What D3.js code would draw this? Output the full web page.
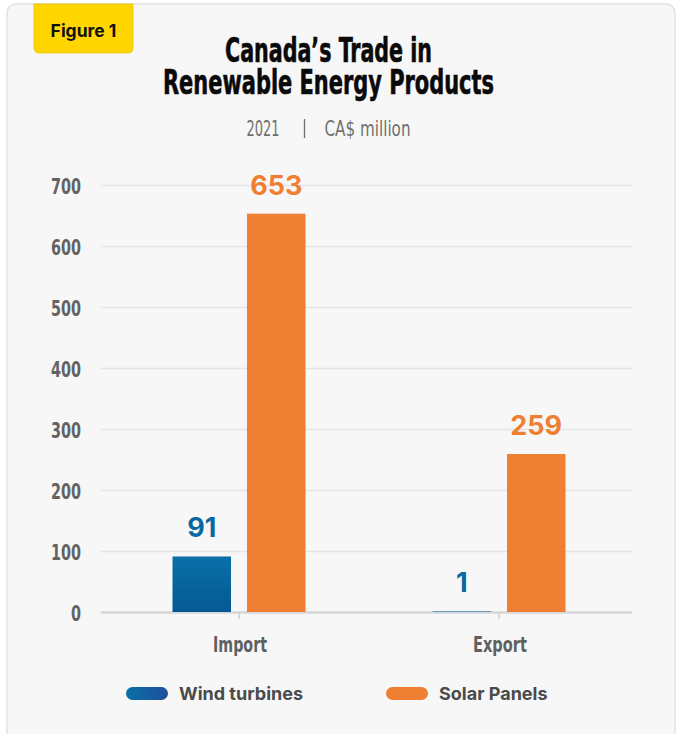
<!DOCTYPE html>
<html>
<head>
<meta charset="utf-8">
<script src="https://cdn.jsdelivr.net/npm/d3@7"></script>
<style>
  html, body { margin: 0; padding: 0; background: #ffffff; }
  svg { display: block; }
</style>
</head>
<body>
<svg id="chart" width="677" height="734"></svg>
<script>
// ---- data ----
const categories = ["Import", "Export"];
const seriesNames = ["Wind turbines", "Solar Panels"];
const windValues = [91, 1];
const solarValues = [653, 259];
const yTicks = [0, 100, 200, 300, 400, 500, 600, 700];
const titleLines = ["Canada\u2019s Trade in", "Renewable Energy Products"];
const subtitleParts = ["2021", "CA$ million"];
const figureLabel = "Figure 1";

const seriesColors = { "Wind turbines": "url(#blueGrad)", "Solar Panels": "#ee7f33" };
const labelColors = { "Wind turbines": "#0a68a0", "Solar Panels": "#ee7f33" };

const svg = d3.select("#chart");
const defs = svg.append("defs");
const g1 = defs.append("linearGradient").attr("id", "blueGrad").attr("x1", 0).attr("y1", 0).attr("x2", 0).attr("y2", 1);
g1.append("stop").attr("offset", "0%").attr("stop-color", "#0a6fa7");
g1.append("stop").attr("offset", "100%").attr("stop-color", "#045994");
const g2 = defs.append("linearGradient").attr("id", "blueGradH").attr("x1", 0).attr("y1", 0).attr("x2", 1).attr("y2", 0);
g2.append("stop").attr("offset", "0%").attr("stop-color", "#0a6fa7");
g2.append("stop").attr("offset", "100%").attr("stop-color", "#1d4f9b");

const condensed = "'Liberation Sans Narrow', 'DejaVu Sans Condensed', 'Roboto Condensed', sans-serif";
const sans = "Inter, 'Noto Sans', Roboto, sans-serif";

// card
svg.append("rect").attr("x", 7).attr("y", 4).attr("width", 668).attr("height", 736)
  .attr("rx", 9).attr("fill", "#f7f7f7").attr("stroke", "#e2e2e2").attr("stroke-width", 1.5);

// figure tag
svg.append("path")
  .attr("d", "M34,4 H133 V48 Q133,53 128,53 H39 Q34,53 34,48 Z")
  .attr("fill", "#ffd600").attr("stroke", "#e9c400").attr("stroke-width", 0.8);
svg.append("text").attr("x", 83.5).attr("y", 37).attr("text-anchor", "middle")
  .attr("font-family", sans).attr("font-weight", 700).attr("font-size", 17.5)
  .attr("fill", "#111").text(figureLabel);

function fitText(sel, width) {
  const w = sel.node().getComputedTextLength();
  if (w > 0) sel.attr("textLength", width).attr("lengthAdjust", "spacingAndGlyphs");
}

// title
const t1 = svg.append("text").attr("x", 328.5).attr("y", 62).attr("text-anchor", "middle")
  .attr("font-family", condensed).attr("font-weight", 700).attr("font-size", 34)
  .attr("fill", "#0a0a0a").attr("stroke", "#0a0a0a").attr("stroke-width", 0.6).text(titleLines[0]);
fitText(t1, 207);
const t2 = svg.append("text").attr("x", 328.5).attr("y", 94).attr("text-anchor", "middle")
  .attr("font-family", condensed).attr("font-weight", 700).attr("font-size", 34)
  .attr("fill", "#0a0a0a").attr("stroke", "#0a0a0a").attr("stroke-width", 0.6).text(titleLines[1]);
fitText(t2, 331);

// subtitle
const s1 = svg.append("text").attr("x", 263).attr("y", 136).attr("text-anchor", "middle")
  .attr("font-family", condensed).attr("font-weight", 400).attr("font-size", 22)
  .attr("fill", "#707070").text(subtitleParts[0]);
fitText(s1, 33);
svg.append("line").attr("x1", 304.5).attr("x2", 304.5).attr("y1", 119).attr("y2", 138)
  .attr("stroke", "#707070").attr("stroke-width", 1.3);
const s2 = svg.append("text").attr("x", 367.5).attr("y", 136).attr("text-anchor", "middle")
  .attr("font-family", condensed).attr("font-weight", 400).attr("font-size", 22)
  .attr("fill", "#707070").text(subtitleParts[1]);
fitText(s2, 86);

// scales
const y = d3.scaleLinear().domain([0, 700]).range([612, 185]);
const x0 = d3.scaleBand().domain(categories).range([109, 629]).padding(0);
const x1 = d3.scaleBand().domain(seriesNames)
  .range([x0.bandwidth() / 2 - 66.5, x0.bandwidth() / 2 + 66.5]).paddingInner(0.2148);

// gridlines
const yAxis = d3.axisLeft(y).tickValues(yTicks).tickSize(0).tickPadding(0);
const yg = svg.append("g").attr("transform", "translate(101,0)").call(yAxis);
yg.select(".domain").remove();
yg.selectAll(".tick text").remove();
yg.selectAll(".tick line").attr("x2", 531).attr("stroke", d => d === 0 ? "#d6d6d6" : "#e4e4e4")
  .attr("stroke-width", d => d === 0 ? 2.5 : 1.5);

// y labels
svg.append("g").selectAll("text").data(yTicks).join("text")
  .attr("x", 81).attr("y", d => y(d) + 8.5).attr("text-anchor", "end")
  .attr("font-family", condensed).attr("font-weight", 700).attr("font-size", 22)
  .attr("fill", "#626262").text(d => d)
  .each(function (d) { fitText(d3.select(this), String(d).length * 10); });

// x axis ticks + labels
const xAxis = d3.axisBottom(x0).tickSize(6).tickPadding(0);
const xg = svg.append("g").attr("transform", "translate(0,613)").call(xAxis);
xg.select(".domain").remove();
xg.selectAll(".tick line").attr("stroke", "#d0d0d0").attr("stroke-width", 1.5);
xg.selectAll(".tick text").remove();
svg.append("g").selectAll("text").data(categories).join("text")
  .attr("x", d => x0(d) + x0.bandwidth() / 2 + 1).attr("y", 652).attr("text-anchor", "middle")
  .attr("font-family", condensed).attr("font-weight", 700).attr("font-size", 22)
  .attr("fill", "#606060").text(d => d)
  .each(function () { fitText(d3.select(this), 54); });

// bars
const rows = categories.map((c, i) => ({
  cat: c,
  vals: [{ s: seriesNames[0], v: windValues[i] }, { s: seriesNames[1], v: solarValues[i] }]
}));
const grp = svg.append("g").selectAll("g").data(rows).join("g")
  .attr("transform", d => `translate(${x0(d.cat)},0)`);
grp.selectAll("rect").data(d => d.vals).join("rect")
  .attr("x", d => x1(d.s)).attr("width", x1.bandwidth())
  .attr("y", d => y(d.v)).attr("height", d => Math.max(0, y(0) - y(d.v)))
  .attr("fill", d => d.v < 3 ? "#1c72b0" : seriesColors[d.s]);
grp.selectAll("text").data(d => d.vals).join("text")
  .attr("x", d => x1(d.s) + x1.bandwidth() / 2).attr("y", d => y(d.v) - 19)
  .attr("text-anchor", "middle").attr("font-family", sans).attr("font-weight", 700)
  .attr("font-size", 27).attr("fill", d => labelColors[d.s]).text(d => d.v);

// legend
const legendX = [126, 386];
const lg = svg.append("g").selectAll("g").data(seriesNames).join("g")
  .attr("transform", (d, i) => `translate(${legendX[i]},687)`);
lg.append("rect").attr("width", 42).attr("height", 13).attr("rx", 6.5)
  .attr("fill", (d, i) => i === 0 ? "url(#blueGradH)" : "#ee7f33");
lg.append("text").attr("x", 53).attr("y", 13).attr("font-family", sans).attr("font-weight", 700)
  .attr("font-size", 18).attr("fill", "#4a4a4a").text(d => d);
</script>
</body>
</html>
